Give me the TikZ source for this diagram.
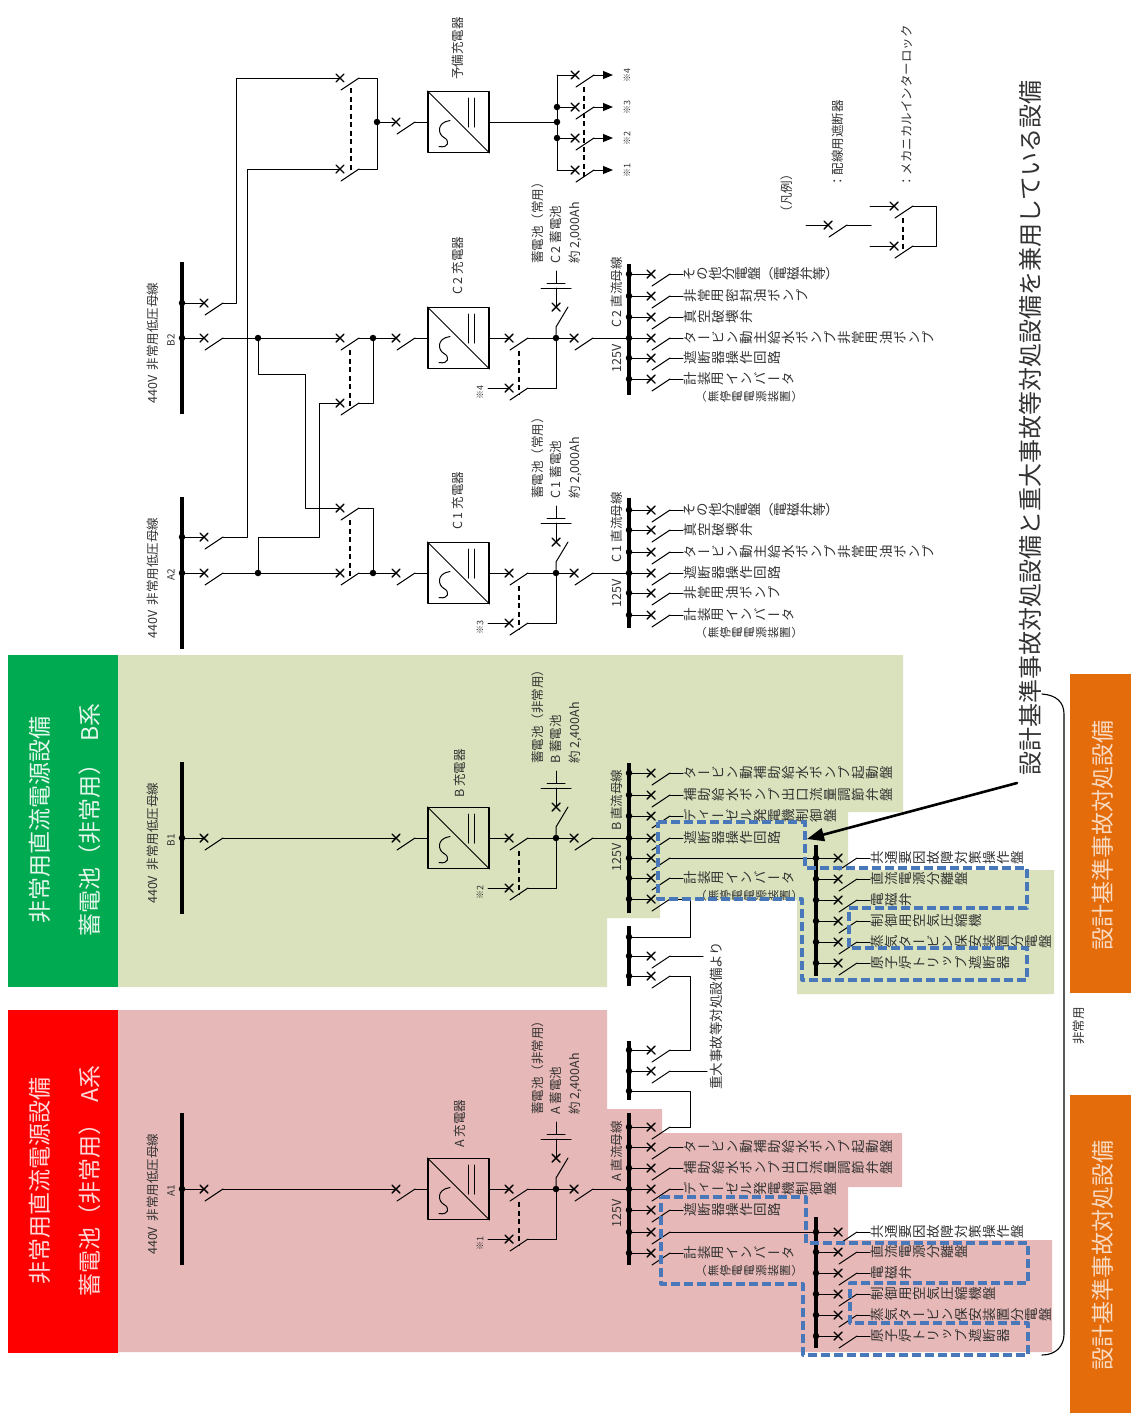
\documentclass[tikz,border=0pt]{standalone}
\usepackage{graphicx}
\usepackage{fontspec}
\setmainfont{Noto Sans CJK JP}
\newfontfamily\vfont[RawFeature={+vert}]{Noto Sans CJK JP}
\usetikzlibrary{arrows.meta, calc}
\definecolor{greenbg}{RGB}{217, 226, 188}
\definecolor{redbg}{RGB}{230, 184, 183}
\definecolor{greentab}{RGB}{0, 170, 80}
\definecolor{redtab}{RGB}{255, 0, 0}
\definecolor{orangetab}{RGB}{228, 108, 10}
\definecolor{dashblue}{RGB}{72, 120, 185}
\definecolor{inktext}{RGB}{50, 50, 50}

% labels that read along the wire, one turned glyph at a time
\def\vpitch{14pt}
\makeatletter
\newcommand{\vtxt}[1]{\edef\vtmp{#1}\expandafter\vloop\expandafter{\vtmp}}
\newcommand{\vloop}[1]{\@tfor\vch:=#1\do{\makebox[\vpitch]{\rotatebox[origin=c]{90}{\vphantom{国}\vch}}}}
\makeatother

\tikzset{
	wire/.style={black,line width=1pt},
	xmark/.style={black,line width=1.4pt},
	lock/.style={black,line width=1.1pt,dash pattern=on 5pt off 3.5pt,line cap=butt},
	busbar/.style={black,line width=4.5pt,line cap=butt},
	jdot/.style={circle,fill=black,inner sep=0pt,minimum size=6.5pt},
	chgbox/.style={draw=black,line width=1.1pt,inner sep=0pt,minimum size=61pt},
	vlbl/.style={anchor=west,inner sep=0pt,text=inktext,font=\vfont\fontsize{13.5}{15}\selectfont},
	vsub/.style={vlbl,font=\vfont\fontsize{11.5}{13}\selectfont},
	txt/.style={rotate=90,inner sep=0pt,text=inktext,font=\fontsize{12.5}{14}\selectfont},
	note/.style={rotate=90,inner sep=0pt,text=inktext,font=\fontsize{9}{10}\selectfont},
	tab/.style={rotate=90,inner sep=0pt,font=\fontsize{23}{26}\selectfont},
	bluebox/.style={draw=dashblue,line width=3.2pt,dash pattern=on 9pt off 4pt,line cap=butt},
}

% breaker: #1 name, #2 x, #3 y of its cross
\newcommand{\brk}[3]{%
	\coordinate (#1in) at (#2,#3);
	\coordinate (#1out) at (#2+19,#3);
	\draw[xmark] (#2-4,#3-4) -- (#2+4,#3+4) (#2-4,#3+4) -- (#2+4,#3-4);
	\draw[wire] (#2+1,#3+12) -- (#1out);
}
% breaker hanging on a bus
\newcommand{\tap}[3]{%
	\node[jdot] (#1dot) at (#2,#3) {};
	\brk{#1}{#2+22}{#3}
	\draw[wire] (#1dot) -- (#1in);
}
% breaker on a bus with a label behind it
\newcommand{\feeder}[5][14pt]{%
	\tap{#2}{#3}{#4}
	\node[vlbl] (#2lbl) at (#3+54,#4) {\def\vpitch{#1}\vtxt{#5}};
	\draw[wire] (#2out) -- (#2lbl.west);
}
% the inverter feeder has a second line
\newcommand{\inverter}[3]{%
	\feeder{#1}{#2}{#3}{計装用インバータ}
	\node[vsub] (#1sub) at (#2+66,#3+18) {\def\vpitch{12pt}\vtxt{（無停電電源装置）}};
}
% charger: #1 name, #2 y
\newcommand{\charger}[2]{%
	\node[chgbox] (#1) at (458.5,#2) {};
	\draw[wire] (#1.north west) -- (#1.south east);
	\draw[wire] ($(#1)+(9.5,-24)$) -- ($(#1)+(9.5,5)$);
	\draw[wire] ($(#1)+(15.5,-24)$) -- ($(#1)+(15.5,5)$);
	\draw[wire] ($(#1)+(-8.5,-1.5)$) .. controls ($(#1)+(-22.5,0.5)$) and ($(#1)+(-20.5,12.5)$) .. ($(#1)+(-14.5,15.5)$)
		.. controls ($(#1)+(-8.5,18.5)$) and ($(#1)+(-9.5,26.5)$) .. ($(#1)+(-19.5,24.5)$);
}
% low voltage bus: #1 name, #2 y of its main feeder, #3 code
\newcommand{\lvbus}[3]{%
	\coordinate (#1top) at (182,#2-76);
	\coordinate (#1bot) at (182,#2+76);
	\draw[busbar] (#1top) -- (#1bot);
	\node[txt,anchor=west] (#1lbl) at (153,#2+66) {440V\ \ 非常用低圧母線};
	\node[note,font=\fontsize{10}{12}\selectfont] (#1code) at (171,#2+2) {#3};
}
% charger output, changeover, battery
% #1 name, #2 charger, #3 y, #4 note, #5 #6 #7 battery lines
\newcommand{\dcfeed}[7]{%
	\node[jdot] (#1dot) at (556,#3) {};
	\brk{#1a}{509}{#3}
	\brk{#1b}{509}{#3+50}
	\brk{#1o}{574}{#3}
	\coordinate (#1stub) at (488,#3+50);
	\coordinate (#1turn) at (556,#3+50);
	\draw[wire] (#2.east) -- (#1ain) (#1aout) -- (#1dot) -- (#1oin);
	\draw[wire] (#1stub) -- (#1bin) (#1bout) -- (#1turn) -- (#1dot);
	\draw[lock] (519,#3+13) -- (519,#3+56);
	\node[note] (#1note) at (480,#3+54) {#4};
	\coordinate (#1cb) at (556,#3-31);
	\draw[xmark] (552,#3-35) -- (560,#3-27) (552,#3-27) -- (560,#3-35);
	\draw[wire] (#1dot) -- (556,#3-11) -- (568,#3-31);
	\draw[wire] (#1cb) -- (556,#3-50);
	\draw[wire] (541,#3-50) -- (571,#3-50);
	\draw[wire] (547,#3-55) -- (565,#3-55);
	\draw[wire] (556,#3-55) -- (556,#3-67);
	\node[txt,anchor=west] (#1ba) at (538,#3-74) {#5};
	\node[txt,anchor=west] (#1bb) at (556,#3-74) {#6};
	\node[txt,anchor=west] (#1bc) at (575,#3-74) {#7};
}

\begin{document}
\begin{tikzpicture}[line cap=round, line join=round, >=Triangle, x=1pt, y=-1pt]
	\useasboundingbox (0,0) rectangle (1131,1417);

	% shaded areas
	\fill[greenbg] (118,655) -- (903,655) -- (903,812) -- (848,812) -- (848,870) -- (1054,870) -- (1054,994)
		-- (797,994) -- (797,900) -- (660,900) -- (660,918) -- (607,918) -- (607,987) -- (118,987) -- cycle;
	\fill[redbg] (118,1010) -- (607,1010) -- (607,1109) -- (662,1109) -- (662,1133) -- (902,1133) -- (902,1187)
		-- (848,1187) -- (848,1240) -- (1052,1240) -- (1052,1352) -- (118,1352) -- cycle;

	% tabs
	\fill[greentab] (8,655) rectangle (118,987);
	\fill[redtab] (8,1010) rectangle (118,1353);
	\fill[orangetab] (1070,674) rectangle (1131,993);
	\fill[orangetab] (1070,1095) rectangle (1131,1413);
	\node[tab,text=white!90!greentab] (tabBa) at (40,820) {非常用直流電源設備};
	\node[tab,text=white!90!greentab] (tabBb) at (90,820) {蓄電池（非常用）\ \ B系};
	\node[tab,text=white!85!redtab] (tabAa) at (40,1181) {非常用直流電源設備};
	\node[tab,text=white!85!redtab] (tabAb) at (90,1181) {蓄電池（非常用）\ \ A系};
	\node[tab,text=white!75!orangetab] (tabOa) at (1103,835) {設計基準事故対処設備};
	\node[tab,text=white!75!orangetab] (tabOb) at (1103,1255) {設計基準事故対処設備};
	\node[tab,text=inktext,font=\fontsize{24}{28}\selectfont] (shared) at (1030,428) {設計基準事故対処設備と重大事故等対処設備を兼用している設備};

	% low voltage buses
	\lvbus{lvA}{1189}{A1}
	\lvbus{lvB}{838}{B1}
	\lvbus{lvC}{573}{A2}
	\lvbus{lvD}{338}{B2}

	% chargers
	\charger{chgA}{1189}
	\charger{chgB}{838}
	\charger{chgC}{573}
	\charger{chgD}{338}
	\charger{chgS}{122}
	\node[txt,anchor=west] (nameA) at (460,1148) {A 充電器};
	\node[txt,anchor=west] (nameB) at (460,798) {B 充電器};
	\node[txt,anchor=west] (nameC) at (458,530) {C 1 充電器};
	\node[txt,anchor=west] (nameD) at (458,295) {C 2 充電器};
	\node[txt,anchor=west] (nameS) at (458,80) {予備充電器};

	% feeders A, B
	\tap{fdA}{182}{1189}
	\brk{inA}{396}{1189}
	\draw[wire] (fdAout) -- (inAin) (inAout) -- (chgA.west);
	\tap{fdB}{182}{838}
	\brk{inB}{396}{838}
	\draw[wire] (fdBout) -- (inBin) (inBout) -- (chgB.west);

	% feeders C1, C2 with their cross ties
	\tap{fdC}{182}{573}
	\tap{fdD}{182}{338}
	\tap{spC}{182}{537}
	\tap{spD}{182}{303}
	\node[jdot] (tieC) at (258,573) {};
	\node[jdot] (tieD) at (258,338) {};
	\node[jdot] (joinC) at (373,573) {};
	\node[jdot] (joinD) at (373,338) {};
	\brk{c1a}{340}{573}
	\brk{c1b}{340}{508}
	\brk{c2a}{340}{338}
	\brk{c2b}{340}{403}
	\brk{inC}{396}{573}
	\brk{inD}{396}{338}
	\draw[wire] (fdCout) -- (tieC) -- (c1ain) (c1aout) -- (joinC) -- (inCin) (inCout) -- (chgC.west);
	\draw[wire] (fdDout) -- (tieD) -- (c2ain) (c2aout) -- (joinD) -- (inDin) (inDout) -- (chgD.west);
	\draw[wire] (tieD) -- (258,374) -- (305,374) -- (305,508) -- (c1bin);
	\draw[wire] (c1bout) -- (373,508) -- (joinC);
	\draw[wire] (joinD) -- (373,403) -- (c2bout);
	\draw[wire] (c2bin) -- (319,403) -- (319,537) -- (258,537) -- (tieC);
	\draw[lock] (350,350) -- (350,408);
	\draw[lock] (350,520) -- (350,577);

	% spare charger
	\brk{s1}{340}{78}
	\brk{s2}{340}{169}
	\brk{inS}{396}{122}
	\node[jdot] (joinS) at (377,122) {};
	\draw[wire] (spDout) -- (236,303) -- (236,78) -- (s1in);
	\draw[wire] (spCout) -- (247,537) -- (247,169) -- (s2in);
	\draw[wire] (s1out) -- (377,78) -- (377,169) -- (s2out);
	\draw[lock] (351,88) -- (351,173);
	\draw[wire] (joinS) -- (inSin) (inSout) -- (chgS.west);

	% spare outlets
	\node[jdot] (outS) at (557,122) {};
	\node[jdot] (out3) at (557,107) {};
	\node[jdot] (out2) at (557,138) {};
	\draw[wire] (chgS.east) -- (outS);
	\draw[wire] (557,75) -- (557,170);
	\foreach \y/\n in {75/4,107/3,138/2,170/1}{
		\brk{sp\n}{575}{\y}
		\draw[wire] (557,\y) -- (sp\n in);
		\coordinate (tip\n) at (613,\y);
		\draw[wire,-{Triangle[length=10pt,width=8pt]}] (sp\n out) -- (tip\n);
		\node[note] (mark\n) at (627,\y) {※\n};
	}
	\draw[lock] (584,87) -- (584,177);

	% charger outputs and batteries
	\dcfeed{oA}{chgA}{1189}{※1}{蓄電池（非常用）}{A 蓄電池}{約 2,400Ah}
	\dcfeed{oB}{chgB}{838}{※2}{蓄電池（非常用）}{B 蓄電池}{約 2,400Ah}
	\dcfeed{oC}{chgC}{573}{※3}{蓄電池（常用）}{C 1 蓄電池}{約 2,000Ah}
	\dcfeed{oD}{chgD}{338}{※4}{蓄電池（常用）}{C 2 蓄電池}{約 2,000Ah}

	% dc buses
	\draw[busbar] (629,1113) -- (629,1265);
	\draw[busbar] (629,763) -- (629,913);
	\draw[busbar] (629,498) -- (629,628);
	\draw[busbar] (629,264) -- (629,395);
	\draw[busbar] (629,926) -- (629,986);
	\draw[busbar] (629,1041) -- (629,1100);
	\draw[busbar] (816,1217) -- (816,1348);
	\draw[busbar] (816,845) -- (816,976);
	\node[txt,anchor=west] (dcAn) at (617,1182) {A 直流母線};
	\node[txt] (dcAv) at (617,1213) {125V};
	\node[txt,anchor=west] (dcBn) at (617,831) {B 直流母線};
	\node[txt] (dcBv) at (617,857) {125V};
	\node[txt,anchor=west] (dcCn) at (617,563) {C 1 直流母線};
	\node[txt] (dcCv) at (617,593) {125V};
	\node[txt,anchor=west] (dcDn) at (617,328) {C 2 直流母線};
	\node[txt] (dcDv) at (617,358) {125V};

	% C1 panel feeders
	\feeder[13pt]{cA510}{629}{510}{その他分電盤（電磁弁等）}
	\foreach \y/\t in {530/真空破壊弁,552/タービン動主給水ポンプ非常用油ポンプ,573/遮断器操作回路,593/非常用油ポンプ}{
		\feeder{cA\y}{629}{\y}{\t}
	}
	\inverter{cA615}{629}{615}

	% C2 panel feeders
	\feeder[13pt]{cB274}{629}{274}{その他分電盤（電磁弁等）}
	\foreach \y/\t in {296/非常用密封油ポンプ,317/真空破壊弁,338/タービン動主給水ポンプ非常用油ポンプ,358/遮断器操作回路}{
		\feeder{cB\y}{629}{\y}{\t}
	}
	\inverter{cB379}{629}{379}

	% B panel feeders
	\foreach \y/\t in {773/タービン動補助給水ポンプ起動盤,795/補助給水ポンプ出口流量調節弁盤,816/ディーゼル発電機制御盤,838/遮断器操作回路}{
		\feeder{dB\y}{629}{\y}{\t}
	}
	\tap{dB858}{629}{858}
	\inverter{dB878}{629}{878}
	\tap{dB899}{629}{899}

	% A panel feeders
	\tap{dA1127}{629}{1127}
	\foreach \y/\t in {1147/タービン動補助給水ポンプ起動盤,1168/補助給水ポンプ出口流量調節弁盤,1189/ディーゼル発電機制御盤,1210/遮断器操作回路}{
		\feeder{dA\y}{629}{\y}{\t}
	}
	\tap{dA1232}{629}{1232}
	\inverter{dA1253}{629}{1253}

	% wires from the batteries into the dc buses
	\draw[wire] (oAoout) -- (dA1189dot);
	\draw[wire] (oBoout) -- (dB838dot);
	\draw[wire] (oCoout) -- (cA573dot);
	\draw[wire] (oDoout) -- (cB338dot);

	% second panels
	\foreach \y/\t in {858/共通要因故障対策操作盤,879/直流電源分離盤,900/電磁弁,921/制御用空気圧縮機,942/蒸気タービン保安装置分電盤,963/原子炉トリップ遮断器}{
		\feeder{eB\y}{816}{\y}{\t}
	}
	\foreach \y/\t in {1232/共通要因故障対策操作盤,1252/直流電源分離盤,1273/電磁弁,1294/制御用空気圧縮機盤,1315/蒸気タービン保安装置分電盤,1336/原子炉トリップ遮断器}{
		\feeder{eA\y}{816}{\y}{\t}
	}
	\draw[wire] (dB858out) -- (eB858dot);
	\draw[wire] (dA1232out) -- (eA1232dot);

	% links between the buses
	\node[jdot] (kB937) at (629,937) {};
	\tap{kB956}{629}{956}
	\tap{kB976}{629}{976}
	\tap{kA1050}{629}{1050}
	\tap{kA1071}{629}{1071}
	\node[jdot] (kA1091) at (629,1091) {};
	\draw[wire] (dB899out) -- (690,899) -- (690,937) -- (kB937);
	\draw[wire] (kB956out) -- (703,956);
	\draw[wire] (kB976out) -- (690,976) -- (690,1050) -- (kA1050out);
	\draw[wire] (kA1071out) -- (707,1071);
	\draw[wire] (kA1091) -- (690,1091) -- (690,1127) -- (dA1127out);
	\node[txt,anchor=west,font=\fontsize{13.5}{15}\selectfont] (fromSA) at (716,1090) {重大事故等対処設備より};

	% dashed outlines
	\draw[bluebox] (658,822) -- (805,822) -- (805,868) -- (1027,868) -- (1027,908) -- (849,908) -- (849,948)
		-- (1027,948) -- (1027,980) -- (802,980) -- (802,899) -- (658,899) -- cycle;
	\draw[bluebox] (661,1197) -- (806,1197) -- (806,1243) -- (1028,1243) -- (1028,1283) -- (850,1283) -- (850,1323)
		-- (1028,1323) -- (1028,1355) -- (803,1355) -- (803,1284) -- (661,1284) -- cycle;

	% pointer and brace
	\coordinate (ptrtail) at (1017,783);
	\coordinate (ptrtip) at (807,839);
	\draw[-{Triangle[length=17pt,width=13pt]},black,line width=2.6pt] (ptrtail) -- (ptrtip);
	\draw[wire,line width=1.1pt] (1042,694) .. controls (1056,695) and (1064,702) .. (1064,714) -- (1064,1334)
		.. controls (1064,1346) and (1056,1355) .. (1042,1355);
	\node[txt] (brlbl) at (1079,1026) {非常用};

	% legend
	\node[txt] (lgttl) at (787,193) {（凡例）};
	\node[txt,anchor=west] (lga) at (838,188) {：配線用遮断器};
	\node[txt,anchor=west] (lgb) at (907,188) {：メカニカルインターロック};
	\brk{lg1}{828}{225}
	\coordinate (lg1a) at (806,225);
	\coordinate (lg1b) at (871,225);
	\draw[wire] (lg1a) -- (lg1in) (lg1out) -- (lg1b);
	\brk{lg2}{894}{206}
	\brk{lg3}{894}{246}
	\coordinate (lg2a) at (870,206);
	\coordinate (lg3a) at (870,246);
	\draw[wire] (lg2a) -- (lg2in) (lg3a) -- (lg3in);
	\draw[wire] (lg2out) -- (936,206) -- (936,246) -- (lg3out);
	\draw[lock] (903,218) -- (903,250);
\end{tikzpicture}
\end{document}
